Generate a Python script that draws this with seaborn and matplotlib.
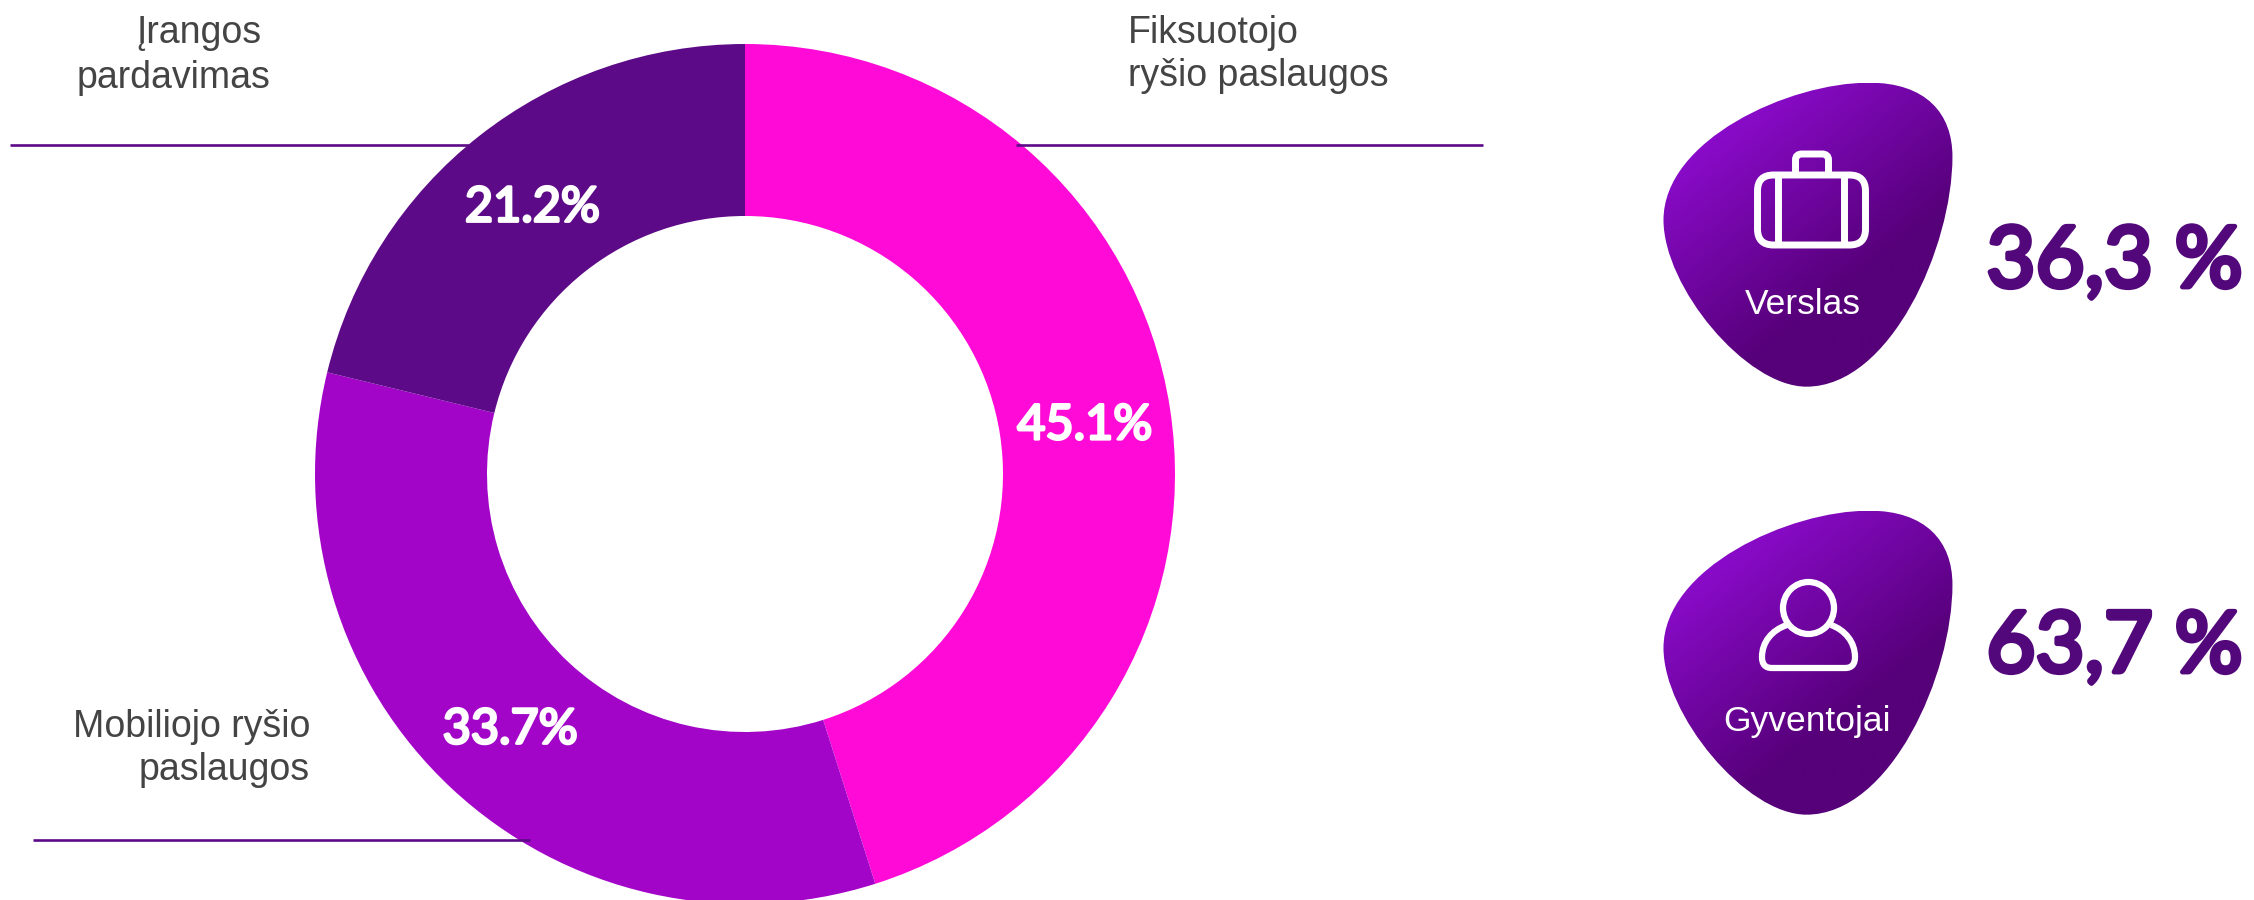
import matplotlib
matplotlib.use('Agg')
import matplotlib.patheffects as pe
import matplotlib.pyplot as plt
import numpy as np
import seaborn as sns
from matplotlib.colors import LinearSegmentedColormap
from matplotlib.patches import Ellipse, FancyBboxPatch, PathPatch
from matplotlib.path import Path

W, H = 2254, 900

shares = [45.1, 33.7, 21.2]
share_colors = ['#ff0ad6', '#a205c8', '#5c0a87']
segments = ['Verslas', 'Gyventojai']
segment_values = ['36,3 %', '63,7 %']

DARK = '#52087a'
LABEL = '#444444'

sns.set_theme(style='white', rc={'axes.facecolor': 'white', 'figure.facecolor': 'white'})
plt.rcParams['font.family'] = ['Liberation Sans', 'DejaVu Sans']


def up(y):
    return H - y


def label(ax, x, y, s, ha):
    ax.text(x, up(y), s, ha=ha, va='baseline', fontsize=27, color=LABEL)


def rounded(width, color):
    return [pe.withStroke(linewidth=width, foreground=color, joinstyle='round', capstyle='round')]


def blob(ax, dy):
    # outline
    pts = [(585, 68), (730, 68), (798, 160), (798, 290), (798, 560), (640, 980), (425, 980),
           (270, 980), (60, 680), (60, 480), (60, 240), (380, 68), (585, 68)]
    verts = [(1640 + x / 2.554, up(60 + y / 3 + dy)) for x, y in pts]
    codes = [Path.MOVETO] + [Path.CURVE4] * 12
    patch = PathPatch(Path(verts, codes), fc='none', ec='none')
    ax.add_patch(patch)
    xx, yy = np.meshgrid(np.linspace(0, 1, 300), np.linspace(0, 1, 300))
    grad = np.clip((0.75 * xx + yy - 0.3) / 0.85, 0, 1)
    cmap = LinearSegmentedColormap.from_list('blob', ['#8a0bca', '#560079'])
    y0, y1 = up(83 + dy), up(387 + dy)
    im = ax.imshow(grad, extent=(1663, 1953, y1, y0), origin='upper', cmap=cmap, aspect='auto', zorder=2)
    im.set_clip_path(patch)


def suitcase(ax):
    style = dict(fc='none', ec='white', lw=5, zorder=3)
    ax.add_patch(FancyBboxPatch((1773.5, up(229)), 76, 38, boxstyle='round,pad=16,rounding_size=16', **style))
    handle = [(1795.5, 172), (1795.5, 160), (1795.5, 156), (1798, 154), (1802, 154), (1822, 154),
              (1826, 154), (1828.5, 156), (1828.5, 160), (1828.5, 172)]
    codes = [Path.MOVETO, Path.LINETO, Path.CURVE4, Path.CURVE4, Path.CURVE4, Path.LINETO,
             Path.CURVE4, Path.CURVE4, Path.CURVE4, Path.LINETO]
    handle = [(x, up(y)) for x, y in handle]
    ax.add_patch(PathPatch(Path(handle, codes), **style))
    ax.plot([1778, 1778], [up(175), up(245)], color='white', lw=5, zorder=3, solid_capstyle='butt')
    ax.plot([1844, 1844], [up(175), up(245)], color='white', lw=5, zorder=3, solid_capstyle='butt')


def person(ax):
    ax.add_patch(Ellipse((1808.5, up(608)), 51, 52, fc='none', ec='white', lw=4.5, zorder=3))
    verts = [(1787, 625), (1772, 630), (1762, 642), (1762, 657), (1762, 664), (1765, 668), (1772, 668),
             (1845, 668), (1852, 668), (1855, 664), (1855, 657), (1855, 642), (1845, 630), (1831, 625)]
    codes = [Path.MOVETO] + [Path.CURVE4] * 6 + [Path.LINETO] + [Path.CURVE4] * 6
    verts = [(x, up(y)) for x, y in verts]
    ax.add_patch(PathPatch(Path(verts, codes), fc='none', ec='white', lw=4.5, zorder=3))


fig = plt.figure(figsize=(W / 100, H / 100), dpi=100)
ax = fig.add_axes([0, 0, 1, 1])

wedges, _, pct = ax.pie(shares, colors=share_colors, center=(745, up(474)), radius=430, startangle=90,
                        counterclock=False, wedgeprops={'width': 172, 'linewidth': 0},
                        autopct='%.1f%%', pctdistance=0.80)
for t in pct:
    x, y = t.get_position()
    t.set(color='white', fontsize=35, fontweight='normal', family='Lato', ha='center', va='center',
          position=(x, y - 4), path_effects=rounded(2, 'white'))

ax.set_xlim(0, W)
ax.set_ylim(0, H)
ax.set_aspect('auto')
ax.axis('off')

for x0, x1, y in [(10, 469, 145), (1016, 1483, 145), (33, 530, 840)]:
    ax.plot([x0, x1], [up(y), up(y)], color='#5c0a87', lw=1.9, zorder=4, solid_capstyle='butt')

label(ax, 261, 43, 'Įrangos', 'right')
label(ax, 270, 88, 'pardavimas', 'right')
label(ax, 1128, 43, 'Fiksuotojo', 'left')
label(ax, 1128, 86, 'ryšio paslaugos', 'left')
label(ax, 310, 737, 'Mobiliojo ryšio', 'right')
label(ax, 310, 780, 'paslaugos', 'right')

blob(ax, 0)
blob(ax, 428)
ax.set_xlim(0, W)
ax.set_ylim(0, H)
ax.set_aspect('auto')
suitcase(ax)
person(ax)

ax.text(1803, up(314), segments[0], ha='center', va='baseline', fontsize=25.5, color='white', zorder=3)
ax.text(1807, up(731), segments[1], ha='center', va='baseline', fontsize=25.5, color='white', zorder=3)
ax.text(2243, up(287), segment_values[0], ha='right', va='baseline', fontsize=61, color=DARK,
        family='Lato', fontweight='normal', path_effects=rounded(3.5, DARK))
ax.text(2243, up(672), segment_values[1], ha='right', va='baseline', fontsize=61, color=DARK,
        family='Lato', fontweight='normal', path_effects=rounded(3.5, DARK))

fig.savefig('out.png', dpi=100)
